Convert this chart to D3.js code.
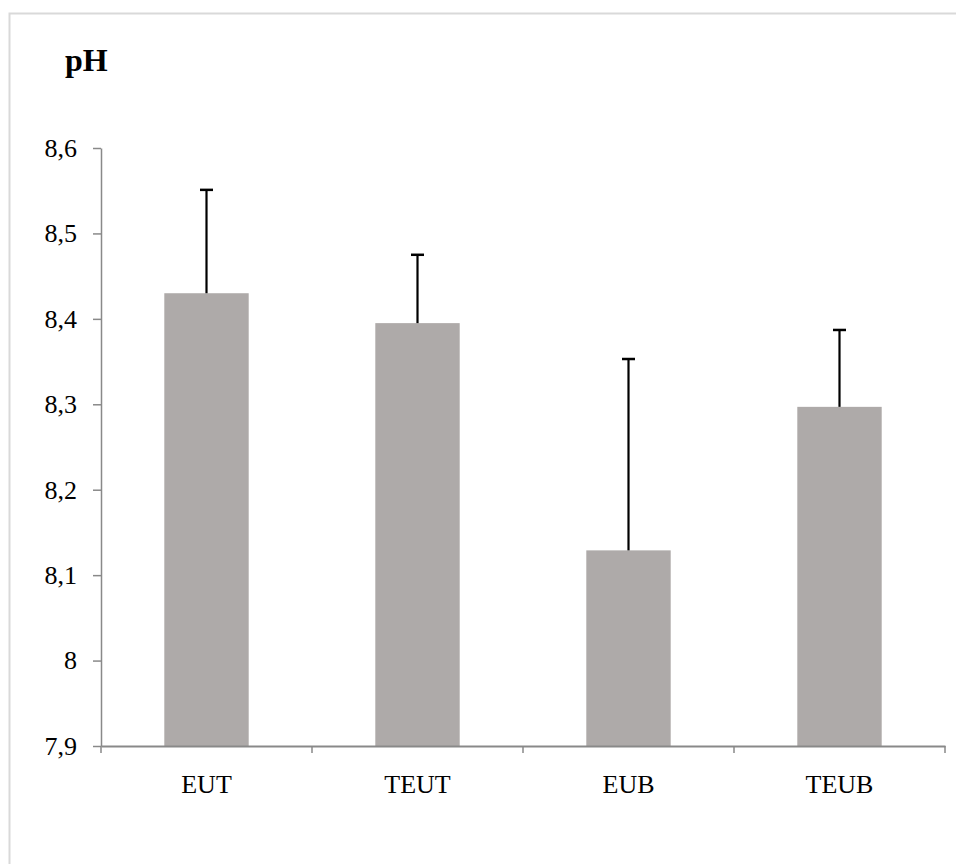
<!DOCTYPE html>
<html>
<head>
<meta charset="utf-8">
<script src="https://cdn.jsdelivr.net/npm/d3@7"></script>
<style>
  html, body { margin: 0; padding: 0; background: #ffffff; }
  svg { display: block; }
</style>
</head>
<body>
<svg id="chart" width="956" height="864"></svg>
<script>
const categories = ["EUT", "TEUT", "EUB", "TEUB"];
const means = [8.430, 8.395, 8.129, 8.297];
const errors = [0.121, 0.080, 0.224, 0.090];
const yTicks = [7.9, 8.0, 8.1, 8.2, 8.3, 8.4, 8.5, 8.6];
const yTickLabels = ["7,9", "8", "8,1", "8,2", "8,3", "8,4", "8,5", "8,6"];
const yTitle = "pH";

const svg = d3.select("#chart");
const W = 956, H = 864;
const margin = { left: 101, right: 11, top: 148, bottom: 118 };
const plotBottom = H - margin.bottom; // 746
const plotRight = W - margin.right;   // 945

// outer border (extends beyond the image on right/bottom)
svg.append("rect")
  .attr("x", 9.5).attr("y", 13.5)
  .attr("width", W).attr("height", H)
  .attr("fill", "none")
  .attr("stroke", "#d9d9d9")
  .attr("stroke-width", 2);

const x = d3.scaleBand()
  .domain(categories)
  .range([margin.left, plotRight])
  .paddingInner(0).paddingOuter(0);

const y = d3.scaleLinear()
  .domain([7.9, 8.6])
  .range([plotBottom, margin.top]);

const barW = x.bandwidth() * 0.4;
const font = "'Liberation Serif', 'Times New Roman', serif";

// bars
svg.append("g").selectAll("rect")
  .data(categories)
  .join("rect")
  .attr("x", (d) => x(d) + (x.bandwidth() - barW) / 2)
  .attr("y", (d, i) => y(means[i]))
  .attr("width", barW)
  .attr("height", (d, i) => plotBottom - y(means[i]))
  .attr("fill", "#aeaaa9");

// error bars
const eg = svg.append("g").attr("stroke", "#000").attr("stroke-width", 2.2);
categories.forEach((c, i) => {
  const cx = x(c) + x.bandwidth() / 2;
  eg.append("line")
    .attr("x1", cx).attr("x2", cx)
    .attr("y1", y(means[i])).attr("y2", y(means[i] + errors[i]));
  eg.append("line")
    .attr("x1", cx - 6.5).attr("x2", cx + 6.5)
    .attr("y1", y(means[i] + errors[i])).attr("y2", y(means[i] + errors[i]))
    .attr("stroke-width", 2.5);
});

// y axis
const yAxis = d3.axisLeft(y)
  .tickValues(yTicks)
  .tickFormat((d, i) => yTickLabels[i])
  .tickSizeInner(8).tickSizeOuter(0).tickPadding(16);
const gy = svg.append("g")
  .attr("transform", `translate(${margin.left},0)`)
  .call(yAxis);
gy.select(".domain").attr("stroke", "#898989").attr("stroke-width", 1.5);
gy.selectAll(".tick line").attr("stroke", "#898989").attr("stroke-width", 1.5);
gy.selectAll(".tick text")
  .attr("font-family", font).attr("font-size", "26px").attr("fill", "#000")
  .attr("dy", "0.32em");

// x axis
const xAxis = d3.axisBottom(x).tickSize(0).tickPadding(29);
const gx = svg.append("g")
  .attr("transform", `translate(0,${plotBottom})`)
  .call(xAxis);
gx.select(".domain").attr("stroke", "#898989").attr("stroke-width", 2);
gx.selectAll(".tick text")
  .attr("font-family", font).attr("font-size", "26px").attr("fill", "#000");
// category boundary ticks
const bounds = categories.map((c) => x(c)).concat([x(categories[categories.length - 1]) + x.bandwidth()]);
gx.selectAll(".bound")
  .data(bounds)
  .join("line")
  .attr("class", "bound")
  .attr("x1", (d) => d).attr("x2", (d) => d)
  .attr("y1", 0).attr("y2", 7)
  .attr("stroke", "#898989").attr("stroke-width", 1.5);

// y title
svg.append("text")
  .attr("x", 65).attr("y", 71)
  .attr("font-family", font)
  .attr("font-weight", "bold")
  .attr("font-size", "32px")
  .attr("fill", "#000")
  .text(yTitle);
</script>
</body>
</html>
